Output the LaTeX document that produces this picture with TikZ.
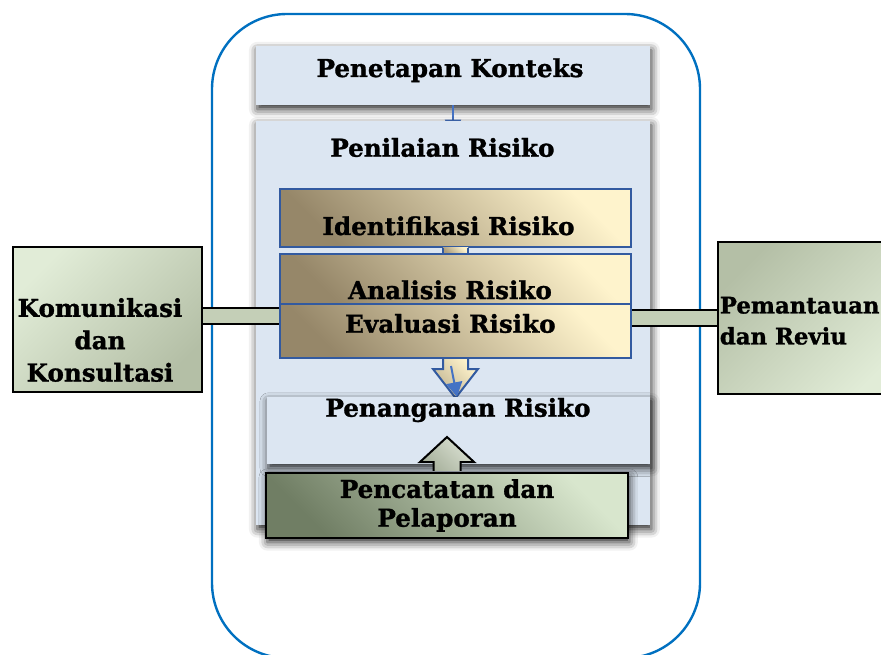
\documentclass[tikz,border=0pt]{standalone}
\usepackage{fontspec}
\setmainfont[BoldFeatures={FakeBold=1.2}]{DejaVu Serif}
\usepackage{xcolor}
\usepackage{tikz}
\usetikzlibrary{shapes,arrows.meta,positioning,shadows.blur}

\definecolor{outerblue}{RGB}{0,112,192}
\definecolor{paneblue}{RGB}{220,230,242}
\definecolor{stepblue}{RGB}{50,90,160}
\definecolor{arrowblue}{RGB}{68,114,196}
\definecolor{tandark}{RGB}{150,135,105}
\definecolor{tanlight}{RGB}{254,243,204}
\definecolor{sagedark}{RGB}{112,126,100}
\definecolor{sagelight}{RGB}{216,230,205}
\definecolor{sagemid}{RGB}{196,207,183}
\definecolor{sidelight}{RGB}{225,236,215}
\definecolor{sidedark}{RGB}{180,191,166}

\begin{document}
\begin{tikzpicture}[
        font=\bfseries\fontsize{17.5}{20.5}\selectfont,
        panel/.style={
            rectangle,
            inner sep=0pt,
            fill=paneblue,
            blur shadow={shadow xshift=1pt, shadow yshift=-3pt,
                shadow blur radius=6pt, shadow opacity=85}
            },
        stepbox/.style={
            rectangle,
            inner sep=0pt,
            draw=stepblue,
            line width=0.5mm,
            left color=tandark,
            right color=tanlight,
            shading angle=135
            },
        sidebox/.style={
            rectangle,
            inner sep=0pt,
            draw=black,
            line width=0.5mm
            },
        title/.style={
            inner sep=0pt,
            anchor=base
            },
        band/.style={
            draw=black,
            line width=0.4mm,
            double=sagemid,
            double distance=0.37cm
            },
        bluearrow/.style={
            arrowblue,
            line width=0.5mm,
            -{Triangle[width=0.4cm,length=0.36cm]}
            }
    ]

    \useasboundingbox (0,0) rectangle (22.025,-16.375);
    \clip (0,0) rectangle (22.025,-16.375);

    % outer frame
    \draw[
        outerblue,
        line width=0.6mm,
        rounded corners=1.875cm
        ] (5.3,-0.35) rectangle (17.5,-16.45);

    \node[panel, minimum width=9.85cm, minimum height=1.475cm] (konteks) at (11.325,-1.8875) {};
    \node[title] (konteks-text) at (11.25,-1.925) {Penetapan Konteks};

    \draw[bluearrow] (konteks.south) -- ++(0,-0.72);

    \node[panel, minimum width=9.85cm, minimum height=10.1cm] (penilaian) at (11.325,-8.075) {};
    \node[title] (penilaian-text) at (11.06,-3.917) {Penilaian Risiko};

    \node[stepbox, minimum width=8.775cm, minimum height=1.45cm] (ident) at (11.3875,-5.45) {};
    \node[stepbox, minimum width=8.775cm, minimum height=1.25cm] (analisis) at (11.3875,-6.975) {};
    \node[stepbox, minimum width=8.775cm, minimum height=1.35cm] (evaluasi) at (11.3875,-8.275) {};

    % stem between the first two steps
    \shade[left color=tandark!80!tanlight, right color=tanlight, shading angle=135]
        ([xshift=-0.3125cm]ident.south) rectangle ([xshift=0.3125cm]analisis.north);
    \draw[stepblue, line width=0.5mm]
        ([xshift=-0.3125cm]ident.south) -- ([xshift=-0.3125cm]analisis.north)
        ([xshift=0.3125cm]ident.south) -- ([xshift=0.3125cm]analisis.north);

    \node[title] (ident-text) at (11.2125,-5.875) {Identifikasi Risiko};
    \node[title] (analisis-text) at (11.25,-7.475) {Analisis Risiko};
    \node[title] (evaluasi-text) at (11.26,-8.317) {Evaluasi Risiko};

    % block arrow down
    \draw[
        stepblue,
        line width=0.5mm,
        left color=tandark!60!tanlight,
        right color=tanlight,
        shading angle=135
        ] ([xshift=-0.3125cm]evaluasi.south) -- ++(0,-0.25) -- ++(-0.25,0)
        -- ++(0.5625,-0.725) -- ++(0.5625,0.725) -- ++(-0.25,0) -- ++(0,0.25);

    \node[panel, minimum width=9.575cm, minimum height=1.675cm] (penanganan) at (11.4625,-10.7625) {};
    \node[title] (penanganan-text) at (11.45,-10.417) {Penanganan Risiko};

    \draw[bluearrow] ([xshift=-0.1125cm,yshift=-0.175cm]evaluasi.south) -- ([xshift=-0.0375cm]penanganan.north);

    \node[sidebox, panel, draw=black, line width=0.5mm,
        left color=sagedark, right color=sagelight, shading angle=135,
        minimum width=9.05cm, minimum height=1.625cm, align=center]
        (pencatatan) at (11.175,-12.6375) {Pencatatan dan\\Pelaporan};

    % block arrow up
    \draw[
        black,
        line width=0.5mm,
        left color=sagemid!85!black,
        right color=sagemid!60!white,
        shading angle=135
        ] ([xshift=-0.3375cm,yshift=0.03cm]pencatatan.north) -- ++(0,0.22) -- ++(-0.3375,0)
        -- ++(0.675,0.625) -- ++(0.675,-0.625) -- ++(-0.3375,0) -- ++(0,-0.22);

    \node[sidebox, left color=sidelight, right color=sidedark, shading angle=45,
        minimum width=4.725cm, minimum height=3.625cm] (komunikasi) at (2.6875,-7.9875) {};
    \node[inner sep=0pt, align=center, font=\bfseries\fontsize{17.5}{23}\selectfont]
        (komunikasi-text) at (2.5,-8.5) {Komunikasi\\dan\\Konsultasi};

    \node[sidebox, left color=sidedark, right color=sidelight, shading angle=45,
        minimum width=4.725cm, minimum height=3.8cm] (pemantauan) at (20.3125,-7.95) {};
    \node[inner sep=0pt, align=left, anchor=west, font=\bfseries\fontsize{16.2}{22}\selectfont]
        (pemantauan-text) at (17.99,-8.02) {Pemantauan\\dan Reviu};

    % side connectors
    \draw[band] (komunikasi.east |- 0,-7.9) -- (evaluasi.west |- 0,-7.9);
    \draw[band] (evaluasi.east |- pemantauan.west) -- (pemantauan.west);

\end{tikzpicture}
\end{document}
